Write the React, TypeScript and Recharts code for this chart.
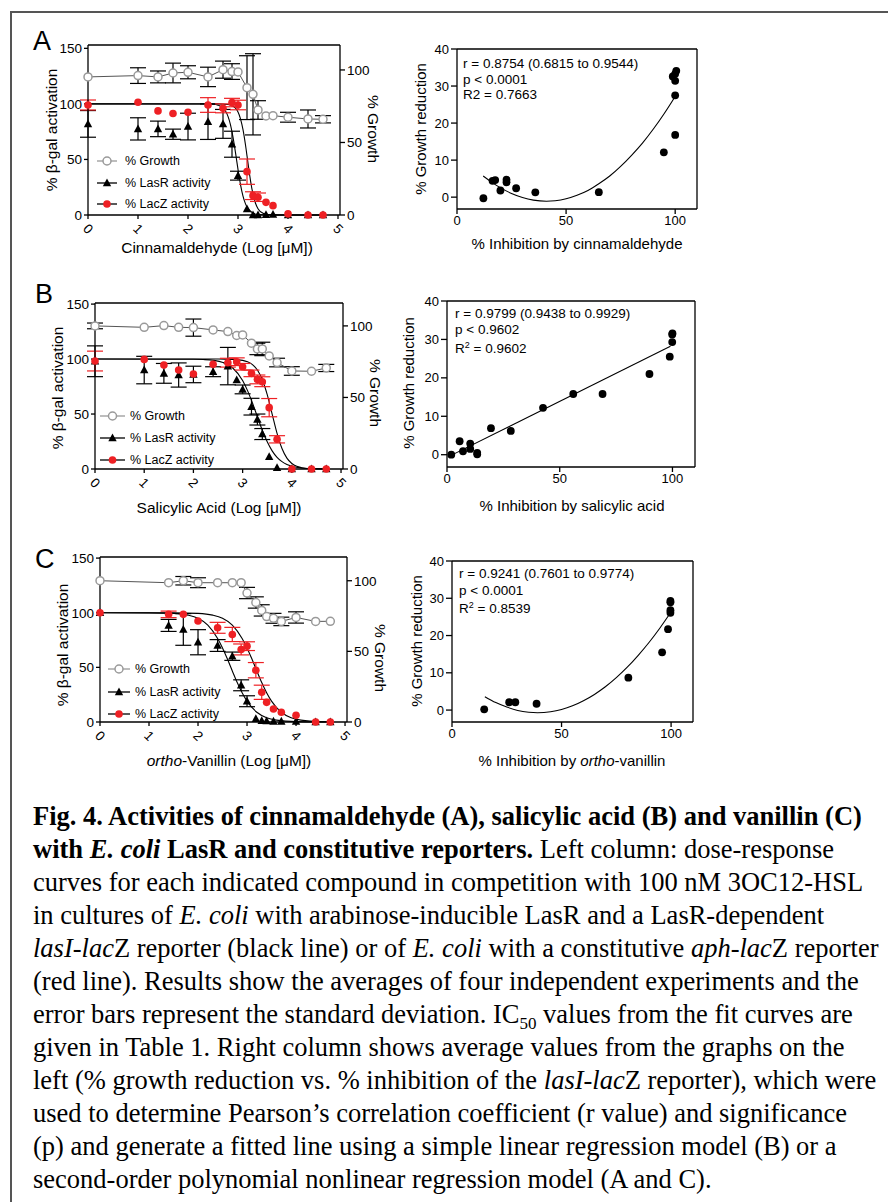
import React from "react";
import {
  ComposedChart,
  Line,
  Scatter,
  XAxis,
  YAxis,
  ErrorBar,
  ReferenceLine,
} from "recharts";

const SANS = '"Liberation Sans", Arial, Helvetica, sans-serif';
const SERIF = '"Liberation Serif", "Times New Roman", serif';
const RED = "#ee2024";
const GREY = "#9a9a9a";

// ---- panel A: cinnamaldehyde ----
const doseA = [0, 1, 1.4, 1.7, 2, 2.4, 2.7, 2.88, 3, 3.18, 3.3, 3.4, 3.56, 3.7, 4, 4.4, 4.7];
const growthA = [95.2, 96.1, 95.2, 97.9, 98.4, 95.2, 100.2, 98.9, 98.6, 87.8, 83.2, 72.4, 68.3, 68.5, 67.4, 66.2, 66];
const growthErrA = [0, 5.4, 4.1, 6.8, 4.5, 6.7, 5.9, 5.4, 0, 22, 28, 6.4, 0, 0, 3.4, 6.2, 2.5];
const lasRA = [82, 77.5, 77.5, 72.7, 79.6, 84, 82, 63.7, 35.4, 5.4, 0, 0, 0.3, 0.5, 0, 0, 0];
const lasRErrA = [12, 10, 7, 4.6, 12, 16, 13, 11.7, 4, 0, 0, 0, 0, 0, 0, 0, 0];
const lacZA = [99, 101.5, 93.7, 91.3, 92.5, 99, 96, 101.2, 99, 39, 17.4, 16, 11.4, 8.4, 1, 0, 0];
const lacZErrA = [4.5, 0, 0, 0, 0, 6.6, 4, 3.8, 4.3, 11.4, 3.5, 3.8, 0, 0, 0, 0, 0];
const fitLasRA = [[0, 100], [2.4, 99.9], [2.5, 99.7], [2.6, 98.9], [2.7, 96.4], [2.75, 93.6], [2.8, 88.8], [2.85, 81.2], [2.9, 70.1], [2.95, 56.1], [3, 41], [3.05, 27.4], [3.1, 17], [3.15, 10], [3.2, 5.7], [3.3, 1.8], [3.4, 0.5], [3.6, 0.1], [4.7, 0]];
const fitLacZA = [[0, 100], [2.6, 100], [2.8, 99.5], [2.9, 97.9], [2.95, 96.1], [3, 92.7], [3.05, 86.6], [3.1, 76.8], [3.15, 63], [3.2, 46.7], [3.25, 31], [3.3, 18.7], [3.35, 10.6], [3.4, 5.7], [3.5, 1.6], [3.6, 0.4], [3.8, 0], [4.7, 0]];

// ---- panel B: salicylic acid ----
const doseB = [0, 1, 1.4, 1.7, 2, 2.4, 2.7, 2.88, 3, 3.18, 3.3, 3.4, 3.54, 3.7, 4, 4.4, 4.7];
const growthB = [100, 99, 100.2, 99, 98.8, 97.2, 96, 93.3, 93.7, 87.9, 83.9, 83.9, 79, 74.4, 68.5, 68.3, 70.6];
const growthErrB = [2, 0, 0, 0, 6, 0, 0, 0, 0, 0, 4, 4.7, 0, 3, 3, 0, 2.5];
const lasRB = [98, 90, 87, 85.5, 86, 88.5, 93.6, 81, 72.4, 56.7, 45, 31.8, 11.2, 1.2, 0, 0, 0];
const lasRErrB = [14, 12.5, 9, 11, 7.5, 4.5, 17, 0, 4, 7.6, 5, 5, 0, 0, 0, 0, 0];
const lacZB = [98.2, 99.7, 94.5, 90, 86.4, 95.2, 96.7, 97.6, 93, 87, 81.5, 79.4, 55.8, 27, 0, 0, 0];
const lacZErrB = [9, 0, 0, 0, 0, 0, 4, 3.5, 3, 3, 4, 4.5, 8.3, 3.3, 0, 0, 0];
const fitLasRB = [[0, 100], [1.5, 99.9], [2, 99.85], [2.2, 99.6], [2.4, 98.9], [2.6, 96.9], [2.8, 91.9], [3, 80.5], [3.1, 71.3], [3.2, 60], [3.3, 47.5], [3.4, 35.2], [3.5, 24.7], [3.6, 16.5], [3.7, 10.6], [3.8, 6.7], [3.9, 4.1], [4, 2.5], [4.2, 0.9], [4.5, 0.2], [4.7, 0.1]];
const fitLacZB = [[0, 100], [2.5, 100], [2.8, 99.7], [3, 98.8], [3.1, 97.5], [3.2, 95], [3.3, 90.1], [3.4, 81.4], [3.5, 67.6], [3.6, 50], [3.7, 32.4], [3.8, 18.6], [3.9, 9.9], [4, 5], [4.1, 2.4], [4.2, 1.2], [4.4, 0.3], [4.7, 0.1]];

// ---- panel C: ortho-vanillin ----
const doseC = [0, 1.4, 1.7, 2, 2.4, 2.7, 2.88, 3, 3.18, 3.3, 3.4, 3.54, 3.7, 4, 4.4, 4.7];
const growthC = [100, 98.6, 100, 98.6, 98.6, 98.6, 98.6, 91.3, 84.6, 79, 74.6, 73.4, 71.2, 74, 71.2, 71.3];
const growthErrC = [0, 0, 3, 3.5, 0, 0, 0, 4, 4, 4, 0, 3.5, 3, 4, 0, 0];
const lasRC = [100, 88.4, 84.7, 73, 70, 60.2, 33.6, 19, 3, 1.2, 0.9, 0.6, 0.6, 0.6, 0, 0];
const lasRErrC = [0, 5.5, 14.5, 11.5, 5.4, 3.8, 5, 5, 0, 0, 0, 0, 0, 0, 0, 0];
const lacZC = [100, 98.5, 98.5, 92.4, 86.2, 80.1, 66.4, 69.4, 47.4, 27.2, 18, 11.9, 8.9, 6.1, 0, 0];
const lacZErrC = [0, 3, 0, 0, 5, 6.5, 5, 4, 7, 6.5, 0, 0, 0, 0, 0, 0];
const fitLasRC = [[0, 100], [1, 99.9], [1.5, 99.4], [1.8, 97.8], [2, 94.9], [2.2, 88.7], [2.4, 76.5], [2.5, 67.8], [2.6, 57.6], [2.7, 46.7], [2.8, 36.1], [2.9, 26.8], [3, 19.1], [3.2, 8.9], [3.4, 3.9], [3.6, 1.7], [4, 0.3], [4.7, 0]];
const fitLacZC = [[0, 100], [1.5, 99.9], [2, 99.4], [2.3, 97.8], [2.5, 94.9], [2.7, 88.7], [2.9, 76.5], [3, 67.8], [3.1, 57.6], [3.2, 46.7], [3.3, 36.1], [3.4, 26.8], [3.5, 19.1], [3.7, 8.9], [3.9, 3.9], [4.1, 1.7], [4.5, 0.3], [4.7, 0.2]];

// ---- correlation panels ----
const corrA = [[12.1, -0.3], [16.3, 4.4], [17.5, 4.6], [19.9, 1.8], [22.7, 4.0], [22.7, 4.7], [27.1, 2.4], [35.9, 1.3], [65, 1.35], [94.8, 12.1], [100, 16.8], [100, 27.5], [98.9, 32.6], [100, 31.4], [100.5, 34.1], [100, 33.3]];
const corrFitA = [[12, 5.7], [16, 4.0], [20, 2.5], [25, 1.0], [30, -0.1], [35, -0.8], [41, -1.1], [45, -0.97], [50, -0.45], [55, 0.5], [60, 1.8], [65, 3.6], [70, 5.7], [75, 8.3], [80, 11.3], [85, 14.6], [90, 18.4], [95, 22.6], [100, 27.2]];
const corrB = [[1.9, 0], [5.6, 3.5], [7.1, 0.9], [10.3, 2.9], [10.3, 1.5], [13.4, 0.5], [13.4, 0.1], [19.5, 6.9], [28.3, 6.2], [42.6, 12.2], [56, 15.8], [69, 15.8], [89.8, 21], [98.8, 25.5], [99.9, 29.3], [99.9, 31.3], [100, 31.6]];
const corrFitB = [[0.7, -0.5], [99.1, 28.2]];
const corrC = [[14.7, 0.2], [26.1, 2.1], [28.9, 2.1], [38.6, 1.7], [80.5, 8.7], [95.9, 15.5], [98.6, 21.7], [99.7, 26.1], [99.7, 26.8], [99.7, 28.9], [99.7, 29.3]];
const corrFitC = [[15, 3.6], [20, 2.0], [25, 0.8], [30, -0.1], [35, -0.57], [39, -0.7], [45, -0.45], [50, 0.15], [55, 1.13], [60, 2.5], [65, 4.2], [70, 6.25], [75, 8.7], [80, 11.5], [85, 14.7], [90, 18.2], [95, 22.1], [99.5, 25.9]];

const doseTicks = [0, 1, 2, 3, 4, 5];
const leftTicks = [0, 50, 100, 150];
const rightTicks = [0, 50, 100];
const corrXTicks = [0, 50, 100];
const corrYTicks = [0, 10, 20, 30, 40];

const zipSeries = (xs: number[], ys: number[], es: number[]) =>
  xs.map((x, i) => ({ x, y: ys[i], e: es[i] || null }));
const pairs = (a: number[][]) => a.map(([x, y]) => ({ x, y }));

const tickStyle = { fontSize: 13.5, fill: "#000", fontFamily: SANS };
const axisStyle = { stroke: "#000", strokeWidth: 1.3 };

const RotTick = (p: any) => {
  const { x, y, payload } = p;
  const cy = y + 8;
  return (
    <text
      x={x}
      y={cy}
      textAnchor="middle"
      dominantBaseline="central"
      transform={`rotate(45 ${x} ${cy})`}
      style={tickStyle}
    >
      {payload.value}
    </text>
  );
};

const growthDot = (p: any) => (
  <circle key={`g${p.index}`} cx={p.cx} cy={p.cy} r={4} fill="#fff" stroke={GREY} strokeWidth={1.5} />
);
const redDot = (p: any) => <circle cx={p.cx} cy={p.cy} r={3.8} fill={RED} />;
const blackDot = (p: any) => <circle cx={p.cx} cy={p.cy} r={3.9} fill="#000" />;
const triangle = (p: any) => (
  <polygon
    points={`${p.cx},${p.cy - 4.5} ${p.cx - 4.2},${p.cy + 3.3} ${p.cx + 4.2},${p.cy + 3.3}`}
    fill="#000"
  />
);

interface DoseProps {
  top: number;
  box: { l: number; r: number; t: number; b: number };
  leftMax: number;
  rightMax: number;
  dose: number[];
  growth: number[];
  growthErr: number[];
  lasR: number[];
  lasRErr: number[];
  lacZ: number[];
  lacZErr: number[];
  fitLasR: number[][];
  fitLacZ: number[][];
}

function DoseChart(props: DoseProps) {
  const { top, box, leftMax, rightMax, dose } = props;
  const W = 400;
  const H = 260;
  const margin = {
    left: box.l - 40,
    right: W - box.r - 40,
    top: box.t - top,
    bottom: top + H - box.b - 30,
  };
  return (
    <div style={{ position: "absolute", left: 0, top }}>
      <ComposedChart width={W} height={H} margin={margin}>
        <XAxis
          type="number"
          dataKey="x"
          domain={[0, 5.04]}
          ticks={doseTicks}
          height={30}
          tickSize={4}
          axisLine={axisStyle}
          tickLine={axisStyle}
          tick={RotTick}
        />
        <YAxis
          yAxisId="l"
          type="number"
          dataKey="y"
          domain={[0, leftMax]}
          ticks={leftTicks}
          width={40}
          tickSize={4}
          axisLine={axisStyle}
          tickLine={axisStyle}
          tick={tickStyle}
        />
        <YAxis
          yAxisId="r"
          orientation="right"
          type="number"
          dataKey="y"
          domain={[0, rightMax]}
          ticks={rightTicks}
          width={40}
          tickSize={5}
          axisLine={axisStyle}
          tickLine={axisStyle}
          tick={tickStyle}
        />
        <ReferenceLine yAxisId="l" y={leftMax} stroke="#000" strokeWidth={1.3} />
        <Line yAxisId="l" data={pairs(props.fitLasR)} dataKey="y" type="monotone" stroke="#000" strokeWidth={1.1} dot={false} isAnimationActive={false} />
        <Line yAxisId="l" data={pairs(props.fitLacZ)} dataKey="y" type="monotone" stroke="#000" strokeWidth={1.1} dot={false} isAnimationActive={false} />
        <Line
          yAxisId="r"
          data={zipSeries(dose, props.growth, props.growthErr)}
          dataKey="y"
          type="linear"
          stroke="#555"
          strokeWidth={1}
          dot={growthDot}
          isAnimationActive={false}
        >
          <ErrorBar dataKey="e" direction="y" width={8} stroke="#000" strokeWidth={1.2} />
        </Line>
        <Scatter yAxisId="l" data={zipSeries(dose, props.lasR, props.lasRErr)} shape={triangle} isAnimationActive={false}>
          <ErrorBar dataKey="e" direction="y" width={8} stroke="#000" strokeWidth={1.2} />
        </Scatter>
        <Scatter yAxisId="l" data={zipSeries(dose, props.lacZ, props.lacZErr)} shape={redDot} isAnimationActive={false}>
          <ErrorBar dataKey="e" direction="y" width={8} stroke={RED} strokeWidth={1.2} />
        </Scatter>
      </ComposedChart>
    </div>
  );
}

interface CorrProps {
  top: number;
  box: { l: number; r: number; t: number; b: number };
  points: number[][];
  fit: number[][];
  fitType: "monotone" | "linear";
}

function CorrChart({ top, box, points, fit, fitType }: CorrProps) {
  const X0 = 400;
  const W = 300;
  const H = 260;
  const margin = {
    left: box.l - X0 - 40,
    right: X0 + W - box.r,
    top: box.t - top,
    bottom: top + H - box.b - 30,
  };
  return (
    <div style={{ position: "absolute", left: X0, top }}>
      <ComposedChart width={W} height={H} margin={margin}>
        <XAxis type="number" dataKey="x" domain={[0, 110]} ticks={corrXTicks} height={30} tickSize={5} axisLine={axisStyle} tickLine={axisStyle} tick={{ ...tickStyle, fontSize: 13 }} />
        <YAxis type="number" dataKey="y" domain={[-3.2, 40]} ticks={corrYTicks} width={40} tickSize={6} axisLine={axisStyle} tickLine={axisStyle} tick={{ ...tickStyle, fontSize: 13 }} />
        <ReferenceLine y={40} stroke="#000" strokeWidth={1.3} />
        <ReferenceLine x={110} stroke="#000" strokeWidth={1.3} />
        <Line data={pairs(fit)} dataKey="y" type={fitType} stroke="#000" strokeWidth={1.1} dot={false} isAnimationActive={false} />
        <Scatter data={pairs(points)} shape={blackDot} isAnimationActive={false} />
      </ComposedChart>
    </div>
  );
}

function LegendRows({ x1, x2, tx, ys }: { x1: number; x2: number; tx: number; ys: number[] }) {
  const mx = (x1 + x2) / 2;
  const fs = { fontSize: 12.5, fontFamily: SANS, fill: "#000" };
  return (
    <g>
      <line x1={x1} x2={x2} y1={ys[0]} y2={ys[0]} stroke={GREY} strokeWidth={1.3} />
      <circle cx={mx} cy={ys[0]} r={4} fill="#fff" stroke={GREY} strokeWidth={1.5} />
      <text x={tx} y={ys[0]} dominantBaseline="central" style={fs}>% Growth</text>
      <line x1={x1} x2={x2} y1={ys[1]} y2={ys[1]} stroke="#000" strokeWidth={1.3} />
      <polygon points={`${mx},${ys[1] - 4.5} ${mx - 4.2},${ys[1] + 3.3} ${mx + 4.2},${ys[1] + 3.3}`} fill="#000" />
      <text x={tx} y={ys[1]} dominantBaseline="central" style={fs}>% LasR activity</text>
      <line x1={x1} x2={x2} y1={ys[2]} y2={ys[2]} stroke="#000" strokeWidth={1.3} />
      <circle cx={mx} cy={ys[2]} r={3.8} fill={RED} />
      <text x={tx} y={ys[2]} dominantBaseline="central" style={fs}>% LacZ activity</text>
    </g>
  );
}

function VText({ x, y, angle, size, children }: { x: number; y: number; angle: number; size: number; children: React.ReactNode }) {
  return (
    <text
      transform={`translate(${x} ${y}) rotate(${angle})`}
      textAnchor="middle"
      dominantBaseline="central"
      style={{ fontSize: size, fontFamily: SANS, fill: "#000" }}
    >
      {children}
    </text>
  );
}

function Overlay() {
  const letter = { fontSize: 27, fontFamily: SANS, fill: "#000" };
  const note = { fontSize: 13.5, fontFamily: SANS, fill: "#000" };
  return (
    <svg width={888} height={780} style={{ position: "absolute", left: 0, top: 0, pointerEvents: "none" }}>
      <text x={33} y={50} style={letter}>A</text>
      <text x={35} y={303} style={letter}>B</text>
      <text x={35} y={568} style={letter}>C</text>

      <VText x={51} y={130} angle={-90} size={15.5}>% β-gal activation</VText>
      <VText x={373} y={129} angle={90} size={15.5}>% Growth</VText>
      <VText x={217} y={247} angle={0} size={15.5}>Cinnamaldehyde (Log [μM])</VText>

      <VText x={57} y={388} angle={-90} size={15.5}>% β-gal activation</VText>
      <VText x={375} y={393} angle={90} size={15.5}>% Growth</VText>
      <VText x={219} y={507} angle={0} size={15.5}>Salicylic Acid (Log [μM])</VText>

      <VText x={62} y={645} angle={-90} size={15.5}>% β-gal activation</VText>
      <VText x={380} y={658} angle={90} size={15.5}>% Growth</VText>
      <VText x={229} y={760} angle={0} size={15.5}>
        <tspan fontStyle="italic">ortho</tspan>-Vanillin (Log [μM])
      </VText>

      <LegendRows x1={97} x2={117} tx={125} ys={[161, 183, 204]} />
      <LegendRows x1={100} x2={125} tx={130} ys={[416, 438, 460]} />
      <LegendRows x1={108} x2={130} tx={135} ys={[669, 692, 714]} />

      <VText x={420} y={129} angle={-90} size={15}>% Growth reduction</VText>
      <VText x={577} y={243} angle={0} size={15}>% Inhibition by cinnamaldehyde</VText>
      <VText x={408} y={383} angle={-90} size={15}>% Growth reduction</VText>
      <VText x={572} y={505} angle={0} size={15}>% Inhibition by salicylic acid</VText>
      <VText x={416} y={641} angle={-90} size={15}>% Growth reduction</VText>
      <VText x={572} y={760} angle={0} size={15}>
        % Inhibition by <tspan fontStyle="italic">ortho</tspan>-vanillin
      </VText>

      <text x={463} y={68} style={note}>r = 0.8754 (0.6815 to 0.9544)</text>
      <text x={463} y={84} style={note}>p &lt; 0.0001</text>
      <text x={463} y={99} style={note}>R2 = 0.7663</text>

      <text x={455} y={318} style={note}>r = 0.9799 (0.9438 to 0.9929)</text>
      <text x={455} y={334} style={note}>p &lt; 0.9602</text>
      <text x={455} y={353} style={note}>
        R<tspan dy={-5} fontSize={9}>2</tspan><tspan dy={5}> = 0.9602</tspan>
      </text>

      <text x={459} y={578} style={note}>r = 0.9241 (0.7601 to 0.9774)</text>
      <text x={459} y={595} style={note}>p &lt; 0.0001</text>
      <text x={459} y={613} style={note}>
        R<tspan dy={-5} fontSize={9}>2</tspan><tspan dy={5}> = 0.8539</tspan>
      </text>
    </svg>
  );
}

function Caption() {
  return (
    <div
      style={{
        position: "absolute",
        left: 33,
        top: 800,
        fontFamily: SERIF,
        fontSize: 26.5,
        lineHeight: "33px",
        whiteSpace: "nowrap",
        color: "#000",
      }}
    >
      <div><b>Fig. 4. Activities of cinnamaldehyde (A), salicylic acid (B) and vanillin (C)</b></div>
      <div><b>with <i>E. coli</i> LasR and constitutive reporters.</b> Left column: dose-response</div>
      <div>curves for each indicated compound in competition with 100 nM 3OC12-HSL</div>
      <div>in cultures of <i>E. coli</i> with arabinose-inducible LasR and a LasR-dependent</div>
      <div><i>lasI-lac</i>Z reporter (black line) or of <i>E. coli</i> with a constitutive <i>aph-lac</i>Z reporter</div>
      <div>(red line). Results show the averages of four independent experiments and the</div>
      <div>error bars represent the standard deviation. IC<sub style={{ fontSize: 17, lineHeight: 0 }}>50</sub> values from the fit curves are</div>
      <div>given in Table 1. Right column shows average values from the graphs on the</div>
      <div>left (% growth reduction vs. % inhibition of the <i>lasI-lac</i>Z reporter), which were</div>
      <div>used to determine Pearson’s correlation coefficient (r value) and significance</div>
      <div>(p) and generate a fitted line using a simple linear regression model (B) or a</div>
      <div>second-order polynomial nonlinear regression model (A and C).</div>
    </div>
  );
}

export default function App() {
  return (
    <div style={{ position: "absolute", left: 0, top: 0, width: 888, height: 1202, background: "#fff", overflow: "hidden" }}>
      <div style={{ position: "absolute", left: 10, top: 11, width: 900, height: 1300, borderLeft: "2px solid #555", borderTop: "2px solid #555" }} />
      <DoseChart
        top={0}
        box={{ l: 88, r: 340, t: 45, b: 215 }}
        leftMax={153}
        rightMax={117.2}
        dose={doseA}
        growth={growthA}
        growthErr={growthErrA}
        lasR={lasRA}
        lasRErr={lasRErrA}
        lacZ={lacZA}
        lacZErr={lacZErrA}
        fitLasR={fitLasRA}
        fitLacZ={fitLacZA}
      />
      <DoseChart
        top={260}
        box={{ l: 95, r: 343, t: 303, b: 469 }}
        leftMax={151}
        rightMax={116}
        dose={doseB}
        growth={growthB}
        growthErr={growthErrB}
        lasR={lasRB}
        lasRErr={lasRErrB}
        lacZ={lacZB}
        lacZErr={lacZErrB}
        fitLasR={fitLasRB}
        fitLacZ={fitLacZB}
      />
      <DoseChart
        top={520}
        box={{ l: 100, r: 347, t: 557, b: 722 }}
        leftMax={151}
        rightMax={116.8}
        dose={doseC}
        growth={growthC}
        growthErr={growthErrC}
        lasR={lasRC}
        lasRErr={lasRErrC}
        lacZ={lacZC}
        lacZErr={lacZErrC}
        fitLasR={fitLasRC}
        fitLacZ={fitLacZC}
      />
      <CorrChart top={0} box={{ l: 457, r: 697, t: 49, b: 209 }} points={corrA} fit={corrFitA} fitType="monotone" />
      <CorrChart top={260} box={{ l: 447, r: 695, t: 301, b: 467 }} points={corrB} fit={corrFitB} fitType="linear" />
      <CorrChart top={520} box={{ l: 452, r: 693, t: 561, b: 722 }} points={corrC} fit={corrFitC} fitType="monotone" />
      <Overlay />
      <Caption />
    </div>
  );
}
